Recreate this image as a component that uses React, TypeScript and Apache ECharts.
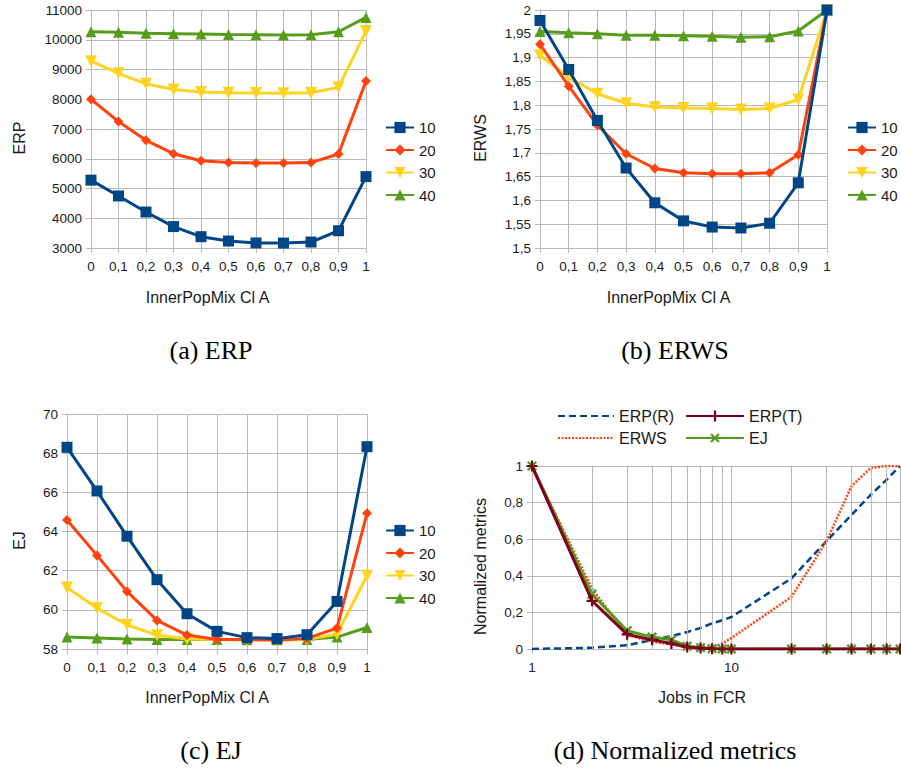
import { useEffect, useRef } from 'react';
import * as echarts from 'echarts';

// ---------- data ----------
const mixCategories = ['0', '0,1', '0,2', '0,3', '0,4', '0,5', '0,6', '0,7', '0,8', '0,9', '1'];
const seriesNames = ['10', '20', '30', '40'];

const erp10 = [5280, 4750, 4210, 3720, 3380, 3235, 3170, 3165, 3200, 3580, 5400];
const erp20 = [8000, 7250, 6620, 6170, 5935, 5870, 5855, 5855, 5870, 6160, 8610];
const erp30 = [9280, 8870, 8520, 8330, 8245, 8220, 8210, 8205, 8220, 8400, 10290];
const erp40 = [10270, 10250, 10215, 10205, 10195, 10180, 10170, 10160, 10170, 10270, 10750];

const erws10 = [1.978, 1.875, 1.768, 1.668, 1.595, 1.557, 1.544, 1.542, 1.552, 1.637, 2.0];
const erws20 = [1.928, 1.84, 1.758, 1.698, 1.667, 1.658, 1.656, 1.656, 1.658, 1.696, 2.0];
const erws30 = [1.905, 1.859, 1.824, 1.804, 1.796, 1.794, 1.793, 1.791, 1.793, 1.812, 2.0];
const erws40 = [1.955, 1.952, 1.95, 1.947, 1.947, 1.946, 1.945, 1.943, 1.944, 1.956, 2.0];

const ej10 = [68.3, 66.07, 63.76, 61.54, 59.8, 58.9, 58.58, 58.53, 58.73, 60.43, 68.33];
const ej20 = [64.59, 62.78, 60.94, 59.46, 58.71, 58.49, 58.48, 58.46, 58.54, 59.07, 64.93];
const ej30 = [61.14, 60.09, 59.24, 58.7, 58.51, 58.48, 58.47, 58.47, 58.48, 58.77, 61.74];
const ej40 = [58.61, 58.56, 58.51, 58.49, 58.48, 58.48, 58.47, 58.47, 58.48, 58.61, 59.1];

const jobs = [1, 2, 3, 4, 5, 6, 7, 8, 9, 10, 20, 30, 40, 50, 60, 70];
const normErpR = [0, 0.007, 0.02, 0.05, 0.07, 0.093, 0.115, 0.14, 0.157, 0.175, 0.386, 0.59, 0.733, 0.843, 0.925, 1.0];
const normErpT = [1, 0.263, 0.08, 0.05, 0.03, 0.011, 0.005, 0.002, 0, 0, 0, 0, 0, 0, 0, 0];
const normErws = [1, 0.33, 0.075, 0.04, 0.025, 0.01, 0.005, 0.01, 0.03, 0.06, 0.285, 0.59, 0.89, 0.99, 1, 1];
const normEj = [1, 0.3, 0.1, 0.065, 0.05, 0.015, 0.007, 0.002, 0, 0, 0, 0, 0, 0, 0, 0];
const jobsGridTicks = [2, 3, 4, 5, 6, 7, 8, 9, 20, 30, 40, 50, 60, 70];

const normNames = ['ERP(R)', 'ERP(T)', 'ERWS', 'EJ'];
const captions = ['(a) ERP', '(b) ERWS', '(c) EJ', '(d) Normalized metrics'];
const xName = 'InnerPopMix Cl A';

// ---------- styling ----------
const FONT = 'Liberation Sans';
const TXT = '#1a1a1a';
const GRID = '#b8b8b8';
const colors = ['#004586', '#ff420e', '#ffd320', '#579d1c'];
const DOWN_TRI = 'path://M0,0L10,0L5,9Z';
const PLUS = 'path://M4,0H6V4H10V6H6V10H4V6H0V4H4Z';
const markers = [
  { symbol: 'rect', size: 11 },
  { symbol: 'diamond', size: 10 },
  { symbol: DOWN_TRI, size: 12 },
  { symbol: 'triangle', size: 11 },
];

const commaFmt = (digits: number) => (v: number) => {
  const p = Math.pow(10, digits);
  return String(Math.round(v * p) / p).replace('.', ',');
};

function catXAxis(gridIndex: number, shift: number, gap: number) {
  return {
    type: 'category',
    gridIndex,
    data: mixCategories,
    boundaryGap: false,
    name: xName,
    nameLocation: 'middle',
    nameGap: gap,
    nameTextStyle: { fontSize: 16, color: TXT, fontFamily: FONT, padding: [0, shift * 2, 0, 0] },
    axisLine: { lineStyle: { color: GRID } },
    axisTick: { show: true, length: 5, lineStyle: { color: GRID }, interval: 0 },
    axisLabel: { interval: 0, fontSize: 13.5, color: TXT, fontFamily: FONT, margin: 11 },
    splitLine: { show: true, interval: 0, lineStyle: { color: GRID } },
  };
}

function valYAxis(gridIndex: number, name: string, min: number, max: number, interval: number, gap: number, fmt: (v: number) => string) {
  return {
    type: 'value',
    gridIndex,
    min,
    max,
    interval,
    name,
    nameLocation: 'middle',
    nameGap: gap,
    nameTextStyle: { fontSize: 16, color: TXT, fontFamily: FONT, padding: [0, 18, 0, 0] },
    axisLine: { show: true, lineStyle: { color: GRID } },
    axisTick: { show: true, length: 5, lineStyle: { color: GRID } },
    axisLabel: { fontSize: 13.5, color: TXT, fontFamily: FONT, margin: 9, formatter: fmt },
    splitLine: { show: true, lineStyle: { color: GRID } },
  };
}

function smallSeries(values: number[][], idx: number) {
  return values.map((vals, k) => ({
    name: seriesNames[k],
    type: 'line',
    xAxisIndex: idx,
    yAxisIndex: idx,
    data: vals,
    symbol: markers[k].symbol,
    symbolSize: markers[k].size,
    showAllSymbol: true,
    z: 6 - k,
    lineStyle: { width: 3, color: colors[k] },
    itemStyle: { color: colors[k] },
  }));
}

function smallLegend(left: number, top: number) {
  return {
    data: seriesNames,
    orient: 'vertical',
    left,
    top,
    padding: 0,
    itemWidth: 28,
    itemHeight: 14,
    itemGap: 7.5,
    itemStyle: { borderWidth: 0 },
    textStyle: { fontSize: 15, color: TXT, fontFamily: FONT },
  };
}

function normLegend(name: string, left: number, top: number, w: number, hideSymbol: boolean) {
  const lg: any = {
    data: [name],
    left,
    top,
    padding: 0,
    itemWidth: w,
    itemHeight: 14,
    textStyle: { fontSize: 16, color: TXT, fontFamily: FONT },
  };
  if (hideSymbol) lg.itemStyle = { opacity: 0, borderWidth: 0 };
  return lg;
}

export default function App() {
  const ref = useRef<HTMLDivElement>(null);
  useEffect(() => {
    if (!ref.current) return;
    const chart = echarts.init(ref.current, undefined, { renderer: 'svg' });
    const pair = (ys: number[]) => jobs.map((x, i) => [x, ys[i]]);
    const capStyle = (text: string) => ({
      text,
      font: '26px "Liberation Serif"',
      fill: '#000',
      align: 'center',
      verticalAlign: 'middle',
      textAlign: 'center',
      textVerticalAlign: 'middle',
    });
    const option: any = {
      animation: false,
      backgroundColor: '#ffffff',
      textStyle: { fontFamily: FONT },
      grid: [
        { left: 91, top: 10, width: 275, height: 238 },
        { left: 540, top: 10, width: 287, height: 238 },
        { left: 67, top: 414, width: 300, height: 235 },
        { left: 532, top: 466, width: 368, height: 183 },
      ],
      xAxis: [
        catXAxis(0, 21, 41),
        catXAxis(1, 15, 41),
        catXAxis(2, 10, 40),
        {
          type: 'log',
          logBase: 10,
          gridIndex: 3,
          min: 1,
          max: 70,
          name: 'Jobs in FCR',
          nameLocation: 'middle',
          nameGap: 40,
          nameTextStyle: { fontSize: 16, color: TXT, fontFamily: FONT, padding: [0, 28, 0, 0] },
          axisLine: { lineStyle: { color: GRID } },
          axisTick: { show: true, length: 5, lineStyle: { color: GRID } },
          axisLabel: { fontSize: 13.5, color: TXT, fontFamily: FONT, margin: 11, showMaxLabel: false },
          splitLine: { show: true, lineStyle: { color: GRID } },
        },
      ],
      yAxis: [
        valYAxis(0, 'ERP', 3000, 11000, 1000, 64, (v: number) => String(v)),
        valYAxis(1, 'ERWS', 1.5, 2, 0.05, 52, commaFmt(2)),
        valYAxis(2, 'EJ', 58, 70, 2, 40, (v: number) => String(v)),
        valYAxis(3, 'Normalized metrics', 0, 1, 0.2, 44, commaFmt(1)),
      ],
      legend: [
        smallLegend(385, 120),
        smallLegend(847, 120),
        smallLegend(385, 523),
        normLegend(normNames[0], 557, 408, 56, true),
        normLegend(normNames[1], 685, 408, 58, false),
        normLegend(normNames[2], 557, 430, 56, true),
        normLegend(normNames[3], 685, 430, 58, false),
      ],
      graphic: [
        { type: 'text', x: 211, y: 350, style: capStyle(captions[0]) },
        { type: 'text', x: 675, y: 350, style: capStyle(captions[1]) },
        { type: 'text', x: 211, y: 750, style: capStyle(captions[2]) },
        { type: 'text', x: 675, y: 750, style: capStyle(captions[3]) },
      ],
      series: [
        ...smallSeries([erp10, erp20, erp30, erp40], 0),
        ...smallSeries([erws10, erws20, erws30, erws40], 1),
        ...smallSeries([ej10, ej20, ej30, ej40], 2),
        {
          name: '_grid',
          type: 'line',
          xAxisIndex: 3,
          yAxisIndex: 3,
          data: [],
          silent: true,
          z: 1,
          markLine: {
            silent: true,
            symbol: ['none', 'none'],
            label: { show: false },
            lineStyle: { color: GRID, width: 1, type: 'solid' },
            emphasis: { disabled: true },
            data: jobsGridTicks.map((v) => ({ xAxis: v })),
          },
        },
        {
          name: normNames[0],
          type: 'line',
          xAxisIndex: 3,
          yAxisIndex: 3,
          data: pair(normErpR),
          symbol: 'none',
          z: 3,
          lineStyle: { width: 2.5, color: '#004586', type: [7, 4] },
          itemStyle: { color: '#004586' },
        },
        {
          name: normNames[2],
          type: 'line',
          xAxisIndex: 3,
          yAxisIndex: 3,
          data: pair(normErws),
          symbol: 'none',
          z: 4,
          lineStyle: { width: 2.5, color: '#ff420e', type: [2, 1.5] },
          itemStyle: { color: '#ff420e' },
        },
        {
          name: normNames[3],
          type: 'line',
          xAxisIndex: 3,
          yAxisIndex: 3,
          data: pair(normEj),
          symbol: PLUS,
          symbolSize: 12,
          symbolRotate: 45,
          z: 5,
          lineStyle: { width: 3, color: '#579d1c' },
          itemStyle: { color: '#579d1c' },
        },
        {
          name: normNames[1],
          type: 'line',
          xAxisIndex: 3,
          yAxisIndex: 3,
          data: pair(normErpT),
          symbol: PLUS,
          symbolSize: 11,
          z: 6,
          lineStyle: { width: 3, color: '#7e0021' },
          itemStyle: { color: '#7e0021' },
        },
      ],
    };
    chart.setOption(option);
    return () => chart.dispose();
  }, []);
  return <div ref={ref} style={{ position: 'absolute', left: 0, top: 0, width: 901, height: 769 }} />;
}
